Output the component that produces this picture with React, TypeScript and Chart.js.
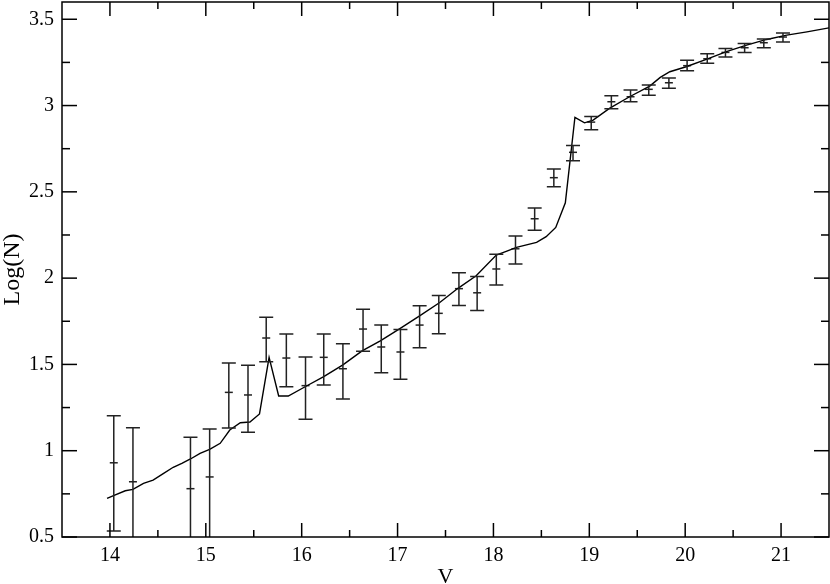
import React, { useEffect, useRef } from "react";
import { Chart, registerables } from "chart.js";
Chart.register(...registerables);

// Model curve
const curveV = [13.97, 14.05, 14.16, 14.24, 14.35, 14.45, 14.56, 14.66, 14.75, 14.84, 14.94, 15.04, 15.15, 15.25, 15.36, 15.46, 15.56, 15.66, 15.76, 15.86, 16.05, 16.23, 16.43, 16.63, 16.82, 17.02, 17.23, 17.44, 17.63, 17.82, 18.03, 18.14, 18.24, 18.45, 18.55, 18.65, 18.75, 18.85, 18.95, 19.04, 19.21, 19.42, 19.63, 19.74, 19.84, 20.01, 20.22, 20.43, 20.64, 20.85, 21.06, 21.27, 21.5];
const curveLogN = [0.724, 0.743, 0.768, 0.776, 0.811, 0.83, 0.869, 0.904, 0.927, 0.952, 0.985, 1.008, 1.043, 1.12, 1.162, 1.166, 1.213, 1.541, 1.317, 1.317, 1.375, 1.429, 1.497, 1.578, 1.637, 1.706, 1.781, 1.859, 1.941, 2.014, 2.134, 2.157, 2.178, 2.207, 2.24, 2.294, 2.437, 2.932, 2.9, 2.916, 2.984, 3.051, 3.113, 3.163, 3.196, 3.225, 3.268, 3.312, 3.35, 3.383, 3.408, 3.427, 3.45];

// Observed counts with asymmetric error bars
const obsV = [14.04, 14.24, 14.84, 15.04, 15.24, 15.44, 15.63, 15.84, 16.04, 16.23, 16.43, 16.64, 16.83, 17.03, 17.23, 17.43, 17.64, 17.83, 18.03, 18.23, 18.43, 18.63, 18.83, 19.02, 19.23, 19.43, 19.62, 19.83, 20.02, 20.23, 20.42, 20.62, 20.82, 21.02];
const obsLogN = [0.93, 0.82, 0.78, 0.848, 1.338, 1.323, 1.653, 1.537, 1.377, 1.541, 1.475, 1.705, 1.601, 1.572, 1.728, 1.796, 1.939, 1.915, 2.053, 2.17, 2.344, 2.582, 2.729, 2.904, 3.022, 3.051, 3.094, 3.132, 3.231, 3.271, 3.308, 3.335, 3.364, 3.397];
const obsHigh = [1.203, 1.133, 1.078, 1.126, 1.508, 1.495, 1.773, 1.676, 1.543, 1.676, 1.62, 1.819, 1.728, 1.703, 1.84, 1.9, 2.031, 2.01, 2.138, 2.244, 2.406, 2.632, 2.769, 2.937, 3.057, 3.09, 3.119, 3.159, 3.262, 3.3, 3.331, 3.36, 3.385, 3.42];
const obsLow = [0.535, 0.35, 0.3, 0.4, 1.131, 1.107, 1.516, 1.371, 1.182, 1.381, 1.3, 1.576, 1.452, 1.414, 1.597, 1.678, 1.842, 1.813, 1.96, 2.082, 2.277, 2.53, 2.68, 2.86, 2.981, 3.022, 3.059, 3.1, 3.202, 3.245, 3.281, 3.308, 3.335, 3.368];

// Axes
const xTickValues = [14, 15, 16, 17, 18, 19, 20, 21];
const xMinorValues = [14.5, 15.5, 16.5, 17.5, 18.5, 19.5, 20.5];
const yTickValues = [0.5, 1, 1.5, 2, 2.5, 3, 3.5];
const yMinorValues = [0.75, 1.25, 1.75, 2.25, 2.75, 3.25];
const xTitle = "V";
const yTitle = "Log(N)";

const FONT = '"Liberation Serif", "Times New Roman", serif';

const framePlugin = {
  id: "frameTicks",
  afterDraw(chart: any) {
    const { ctx, chartArea } = chart;
    const { left, right, top, bottom } = chartArea;
    const xs = chart.scales.x;
    const ys = chart.scales.y;
    ctx.save();
    ctx.strokeStyle = "#000";
    ctx.lineWidth = 1.5;
    ctx.strokeRect(left, top, right - left, bottom - top);
    const seg = (x1: number, y1: number, x2: number, y2: number) => {
      ctx.beginPath();
      ctx.moveTo(x1, y1);
      ctx.lineTo(x2, y2);
      ctx.stroke();
    };
    xTickValues.forEach((v) => {
      const p = xs.getPixelForValue(v);
      seg(p, bottom, p, bottom - 14);
      seg(p, top, p, top + 14);
    });
    xMinorValues.forEach((v) => {
      const p = xs.getPixelForValue(v);
      seg(p, bottom, p, bottom - 7);
      seg(p, top, p, top + 7);
    });
    yTickValues.forEach((v) => {
      const p = ys.getPixelForValue(v);
      seg(left, p, left + 15, p);
      seg(right, p, right - 15, p);
    });
    yMinorValues.forEach((v) => {
      const p = ys.getPixelForValue(v);
      seg(left, p, left + 8, p);
      seg(right, p, right - 8, p);
    });
    ctx.restore();
  },
};

const errorBarPlugin = {
  id: "errorBars",
  afterDatasetsDraw(chart: any) {
    const { ctx, chartArea } = chart;
    const xs = chart.scales.x;
    const ys = chart.scales.y;
    ctx.save();
    ctx.beginPath();
    ctx.rect(chartArea.left, chartArea.top, chartArea.right - chartArea.left, chartArea.bottom - chartArea.top);
    ctx.clip();
    ctx.strokeStyle = "#222";
    ctx.lineWidth = 1.5;
    const cap = 7;
    obsV.forEach((v, i) => {
      const px = xs.getPixelForValue(v);
      const pHi = ys.getPixelForValue(obsHigh[i]);
      const pLo = ys.getPixelForValue(obsLow[i]);
      ctx.beginPath();
      ctx.moveTo(px, pHi);
      ctx.lineTo(px, pLo);
      ctx.moveTo(px - cap, pHi);
      ctx.lineTo(px + cap, pHi);
      ctx.moveTo(px - cap, pLo);
      ctx.lineTo(px + cap, pLo);
      ctx.stroke();
    });
    ctx.restore();
  },
};

export default function App() {
  const ref = useRef<HTMLCanvasElement>(null);
  useEffect(() => {
    if (!ref.current) return;
    const chart = new Chart(ref.current, {
      type: "scatter",
      data: {
        datasets: [
          {
            data: curveV.map((v, i) => ({ x: v, y: curveLogN[i] })),
            showLine: true,
            borderColor: "#000",
            borderWidth: 1.4,
            pointRadius: 0,
            tension: 0,
          },
          {
            data: obsV.map((v, i) => ({ x: v, y: obsLogN[i] })),
            pointStyle: "line",
            pointRadius: 4,
            borderColor: "#222",
            backgroundColor: "#222",
            borderWidth: 1.5,
          },
        ],
      },
      options: {
        animation: false,
        responsive: false,
        layout: { autoPadding: false, padding: { top: 2, right: 1, left: 0, bottom: 0 } },
        plugins: { legend: { display: false }, tooltip: { enabled: false } },
        scales: {
          x: {
            type: "linear",
            min: 13.5,
            max: 21.5,
            afterBuildTicks: (s: any) => {
              s.ticks = xTickValues.map((v) => ({ value: v }));
            },
            afterFit: (s: any) => {
              s.height = 47;
              s.paddingLeft = 0;
              s.paddingRight = 0;
            },
            grid: { display: false, drawTicks: false },
            border: { display: false },
            ticks: {
              padding: 7,
              color: "#000",
              maxRotation: 0,
              font: { family: FONT, size: 20 },
              callback: (v: any) => String(v),
            },
            title: {
              display: true,
              text: xTitle,
              color: "#000",
              font: { family: FONT, size: 22, lineHeight: 0.64 },
              padding: { top: 0, bottom: 0 },
            },
          },
          y: {
            type: "linear",
            min: 0.5,
            max: 3.6,
            afterBuildTicks: (s: any) => {
              s.ticks = yTickValues.map((v) => ({ value: v }));
            },
            afterFit: (s: any) => {
              s.width = 62;
              s.paddingTop = 0;
              s.paddingBottom = 0;
            },
            grid: { display: false, drawTicks: false },
            border: { display: false },
            ticks: {
              padding: 8,
              color: "#000",
              font: { family: FONT, size: 20 },
              callback: (v: any) => String(v),
            },
            title: {
              display: true,
              text: yTitle,
              color: "#000",
              font: { family: FONT, size: 24, lineHeight: 1.1 },
              padding: { top: 0, bottom: 0 },
            },
          },
        },
      },
      plugins: [errorBarPlugin, framePlugin],
    });
    return () => chart.destroy();
  }, []);
  return (
    <div style={{ position: "fixed", left: 0, top: 0, width: 830, height: 584, background: "#fff" }}>
      <canvas ref={ref} width={830} height={584} style={{ display: "block" }} />
    </div>
  );
}
